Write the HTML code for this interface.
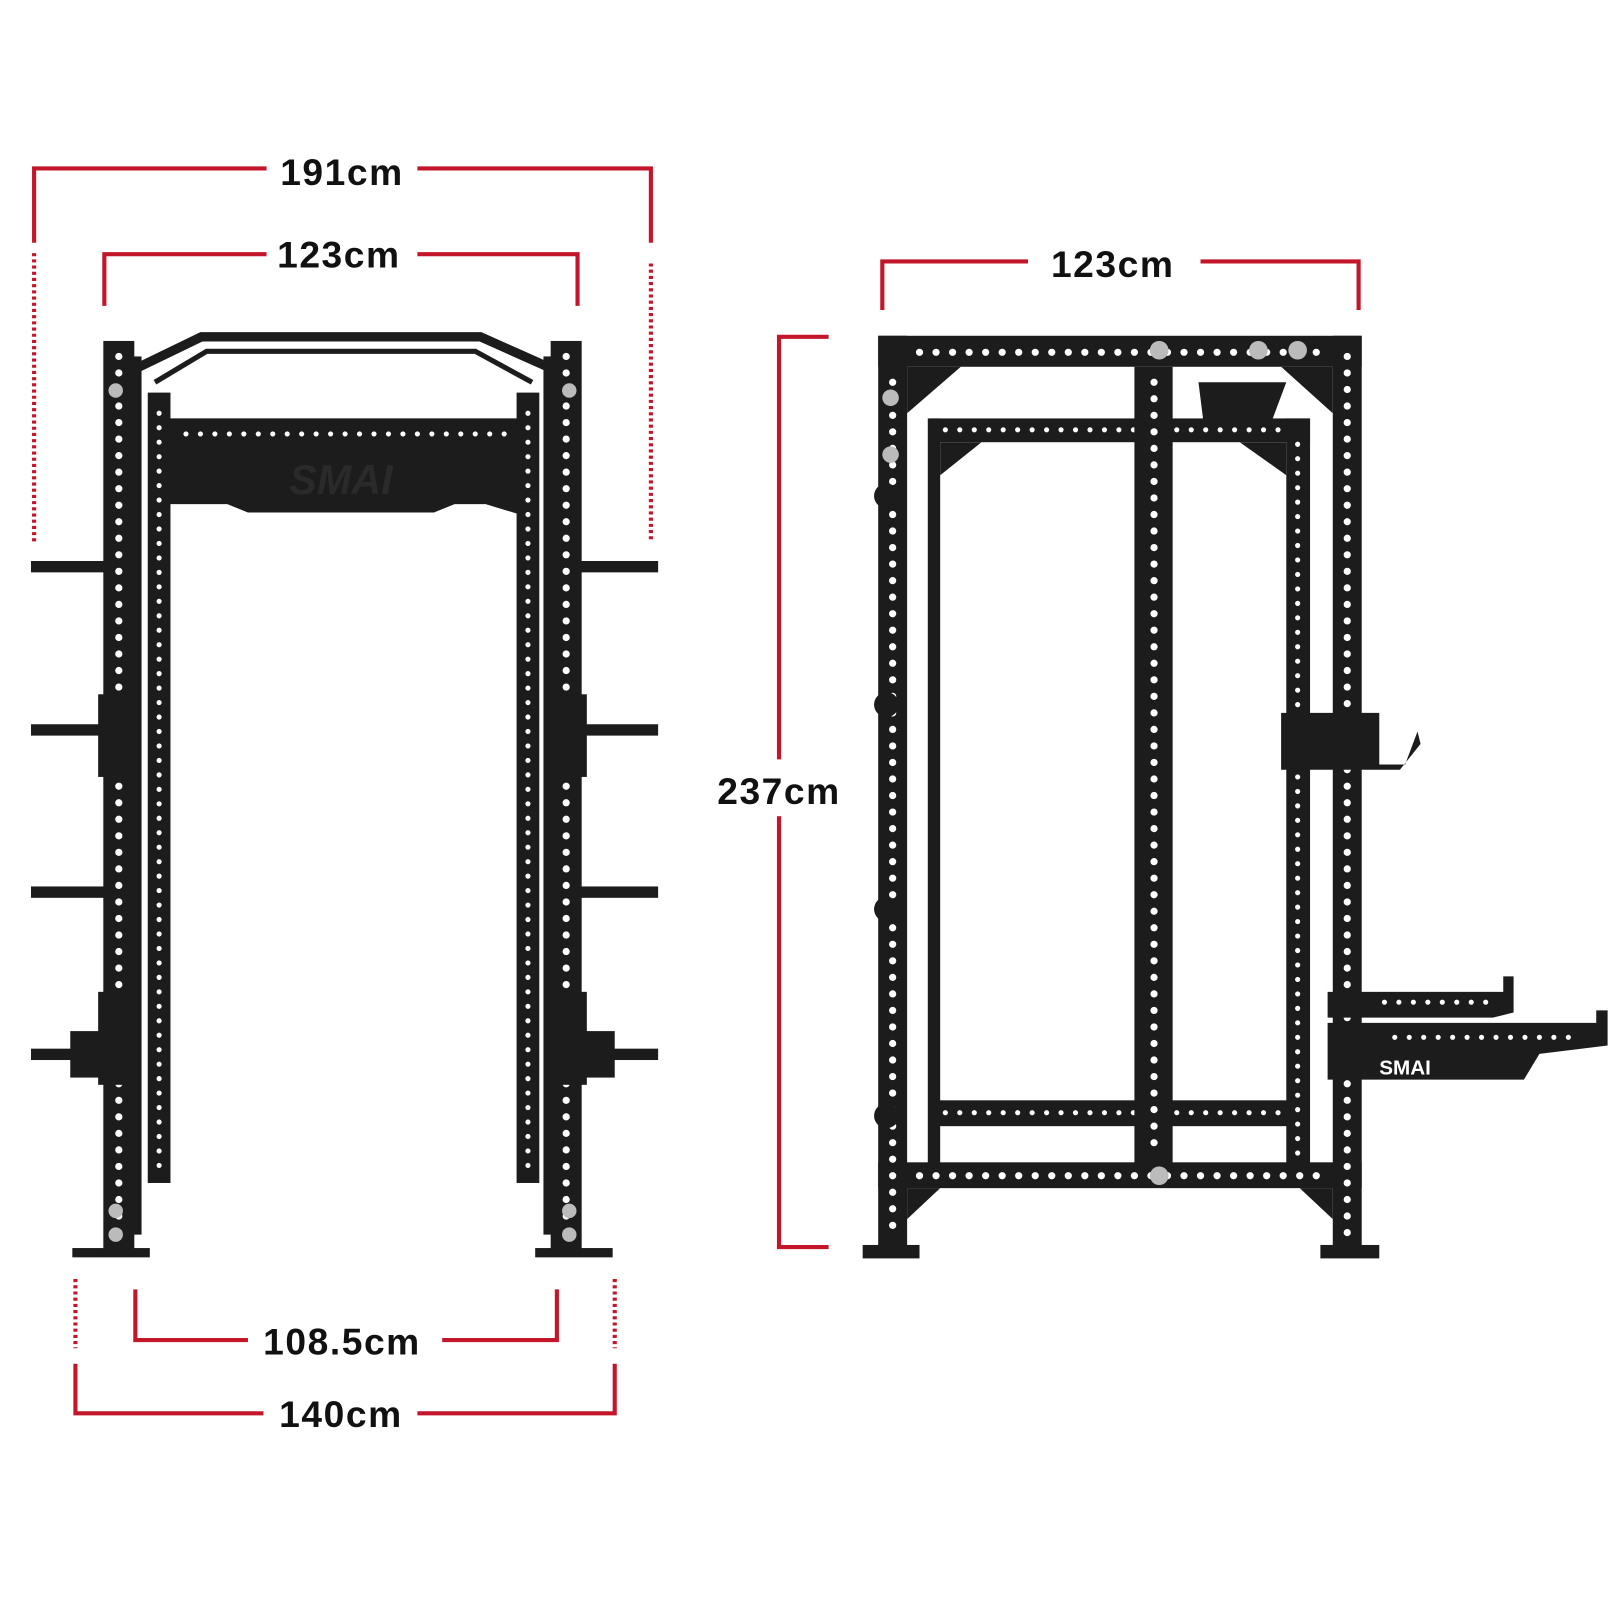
<!DOCTYPE html>
<html><head><style>html,body{margin:0;padding:0;background:#fff}svg{display:block}</style></head>
<body>
<svg width="1620" height="1620" viewBox="0 0 1568 1568" xmlns="http://www.w3.org/2000/svg">
<defs>
<style>
.d{stroke:#c4162a;stroke-width:4;fill:none}
.dt{stroke:#c4162a;stroke-width:4;fill:none;stroke-dasharray:3 3}
.t{font-family:"Liberation Sans",sans-serif;font-weight:bold;font-size:36px;fill:#111;text-anchor:middle;letter-spacing:1.5px}
.k{fill:#1c1c1c}
.h{stroke:#fff;stroke-width:7;stroke-linecap:round;stroke-dasharray:0 16;fill:none}
.hs{stroke:#fff;stroke-width:5;stroke-linecap:round;stroke-dasharray:0 14;fill:none}
.b{fill:#bbb}
</style>
</defs>
<path class="d" d="M33 235V163H258M404 163H630V235"/>
<path class="dt" d="M33 245V525M630 255V525"/>
<path class="d" d="M101 296V246H258M404 246H559V296"/>
<text class="t" x="331" y="179">191cm</text>
<text class="t" x="328" y="259">123cm</text>
<path class="d" d="M131 1248V1297H240M428 1297H539V1248"/>
<path class="dt" d="M73 1238V1305M595 1238V1305"/>
<path class="d" d="M73 1320V1368H255M404 1368H595V1320"/>
<text class="t" x="331" y="1311">108.5cm</text>
<text class="t" x="330" y="1381">140cm</text>
<path class="d" d="M854 300V253H995M1162 253H1315V300"/>
<text class="t" x="1077" y="268">123cm</text>
<path class="d" d="M802 326H754V1207H802"/>
<rect x="690" y="735" width="128" height="55" fill="#fff"/>
<text class="t" x="754" y="778">237cm</text>

<g>
<rect class="k" x="30" y="543" width="75" height="11"/><rect class="k" x="560" y="543" width="77" height="11"/>
<rect class="k" x="30" y="701" width="75" height="11"/><rect class="k" x="560" y="701" width="77" height="11"/>
<rect class="k" x="30" y="858" width="75" height="11"/><rect class="k" x="560" y="858" width="77" height="11"/>
<rect class="k" x="30" y="1015" width="75" height="11"/><rect class="k" x="560" y="1015" width="77" height="11"/>
<path d="M135 355 L195 326 H465 L530 355" stroke="#1c1c1c" stroke-width="9" fill="none"/>
<path d="M150 370 L200 340 H460 L515 370" stroke="#1c1c1c" stroke-width="5" fill="none"/>
<path class="k" d="M150 405H510V500L470 488H440L420 496H240L220 488H150Z"/>
<line class="hs" x1="180" y1="420" x2="490" y2="420"/>
<text x="330" y="478" font-family="Liberation Sans,sans-serif" font-weight="bold" font-size="40" fill="#2a2a2a" text-anchor="middle" font-style="italic">SMAI</text>
<rect class="k" x="143" y="380" width="22" height="765"/>
<rect class="k" x="500" y="380" width="22" height="765"/>
<line class="hs" x1="154" y1="400" x2="154" y2="1140"/>
<line class="hs" x1="511" y1="400" x2="511" y2="1140"/>
<rect class="k" x="100" y="330" width="30" height="885"/>
<rect class="k" x="533" y="330" width="30" height="885"/>
<line class="h" x1="115" y1="345" x2="115" y2="1205"/>
<line class="h" x1="548" y1="345" x2="548" y2="1205"/>
<rect class="k" x="127" y="345" width="10" height="850"/>
<rect class="k" x="526" y="345" width="10" height="850"/>
<circle class="b" cx="112" cy="378" r="7"/><circle class="b" cx="551" cy="378" r="7"/>
<circle class="b" cx="112" cy="1172" r="7"/><circle class="b" cx="551" cy="1172" r="7"/>
<circle class="b" cx="112" cy="1195" r="7"/><circle class="b" cx="551" cy="1195" r="7"/>
<rect class="k" x="95" y="672" width="25" height="80"/><rect class="k" x="543" y="672" width="25" height="80"/>
<rect class="k" x="95" y="960" width="30" height="90"/><rect class="k" x="538" y="960" width="30" height="90"/>
<rect class="k" x="68" y="998" width="30" height="45"/><rect class="k" x="565" y="998" width="30" height="45"/>
<rect class="k" x="70" y="1208" width="75" height="9"/><rect class="k" x="518" y="1208" width="75" height="9"/>
</g>

<g>
<rect class="k" x="900" y="405" width="368" height="23"/>
<rect class="k" x="898" y="405" width="12" height="725"/>
<rect class="k" x="1245" y="405" width="23" height="725"/>
<rect class="k" x="903" y="1065" width="350" height="25"/>
<line class="hs" x1="915" y1="416" x2="1240" y2="416"/>
<line class="hs" x1="915" y1="1077" x2="1240" y2="1077"/>
<line class="hs" x1="1256" y1="430" x2="1256" y2="1120"/>
<rect class="k" x="1098" y="355" width="37" height="775"/>
<line class="h" x1="1117" y1="370" x2="1117" y2="1120"/>
<path class="k" d="M878 355H930L878 400Z"/><path class="k" d="M1290 355H1240L1290 400Z"/>
<path class="k" d="M910 428H950L910 460Z"/><path class="k" d="M1245 428H1200L1245 460Z"/>
<path class="k" d="M878 1150H910L878 1180Z"/><path class="k" d="M1290 1150H1258L1290 1180Z"/>
<rect class="k" x="850" y="325" width="468" height="30"/>
<rect class="k" x="850" y="325" width="28" height="885"/>
<rect class="k" x="1290" y="325" width="28" height="885"/>
<rect class="k" x="850" y="1125" width="468" height="25"/>
<line class="h" x1="890" y1="341" x2="1280" y2="341"/>
<line class="h" x1="890" y1="1138" x2="1280" y2="1138"/>
<line class="h" x1="864" y1="370" x2="864" y2="1200"/>
<line class="h" x1="1304" y1="345" x2="1304" y2="1200"/>
<circle class="b" cx="1122" cy="339" r="9"/><circle class="b" cx="1218" cy="339" r="9"/><circle class="b" cx="1256" cy="339" r="9"/>
<circle class="b" cx="1122" cy="1138" r="9"/>
<circle class="b" cx="862" cy="385" r="8"/><circle class="b" cx="862" cy="440" r="8"/>
<path class="k" d="M1160 370H1245L1230 410H1165Z"/>
<circle class="k" cx="858" cy="480" r="12"/><circle class="k" cx="858" cy="682" r="12"/>
<circle class="k" cx="858" cy="880" r="12"/><circle class="k" cx="858" cy="1080" r="12"/>
<path class="k" d="M1240 690H1335V740H1360L1372 708L1375 720L1355 745H1240Z"/>
<path class="k" d="M1285 960H1455V945H1465V980L1445 985H1285Z"/>
<path class="k" d="M1285 990H1545V978H1556V1012L1490 1020L1475 1045H1285Z"/>
<line class="hs" x1="1340" y1="970" x2="1440" y2="970"/>
<line class="hs" x1="1350" y1="1004" x2="1530" y2="1004"/>
<text x="1360" y="1040" font-family="Liberation Sans,sans-serif" font-weight="bold" font-size="20" fill="#fff" text-anchor="middle">SMAI</text>
<rect class="k" x="835" y="1205" width="55" height="13"/><rect class="k" x="1278" y="1205" width="57" height="13"/>
</g>
</svg>
</body></html>
